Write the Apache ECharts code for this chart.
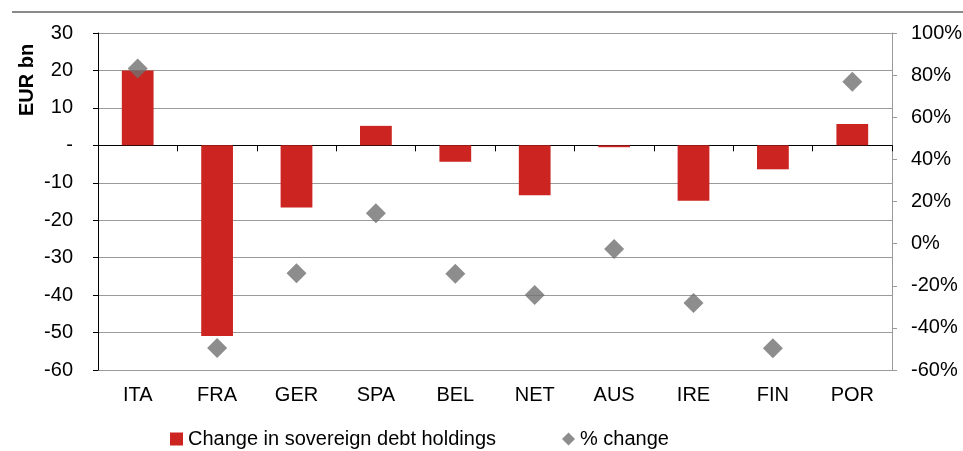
<!DOCTYPE html>
<html>
<head>
<meta charset="utf-8">
<script src="https://cdn.jsdelivr.net/npm/echarts@6/dist/echarts.min.js"></script>
<style>
  html, body { margin: 0; padding: 0; background: #fff; }
  #chart { width: 963px; height: 451px; }
</style>
</head>
<body>
<div id="chart"></div>
<script>
// countries on the x axis
const countries = ['ITA', 'FRA', 'GER', 'SPA', 'BEL', 'NET', 'AUS', 'IRE', 'FIN', 'POR']
// change in holdings, EUR bn (left axis)
const holdingsChange = [20.0, -50.9, -16.6, 5.2, -4.4, -13.3, -0.5, -14.8, -6.4, 5.7]
// % change (right axis)
const pctChange = [83.2, -49.5, -14.1, 14.4, -14.3, -24.4, -2.5, -28.2, -49.7, 76.9]

const FONT = '"Liberation Sans", Arial, sans-serif'

const chart = echarts.init(document.getElementById('chart'))

const option = {
  animation: false,
  textStyle: { fontFamily: FONT },
  graphic: [
    {
      type: 'line',
      shape: { x1: 12, y1: 12, x2: 963, y2: 12 },
      style: { stroke: '#8a8a8a', lineWidth: 2 },
    },
    {
      type: 'text',
      x: 27,
      y: 80,
      rotation: Math.PI / 2,
      style: {
        text: 'EUR bn',
        font: 'bold 20px ' + FONT,
        fill: '#000',
        align: 'center',
        verticalAlign: 'middle',
      },
    },
  ],
  grid: { left: 98, right: 71, top: 33, bottom: 81, containLabel: false, outerBoundsMode: 'none' },
  legend: {
    left: 165,
    top: 424,
    itemGap: 66,
    itemWidth: 13,
    itemHeight: 13,
    textStyle: { fontSize: 20, color: '#000', fontFamily: FONT },
    data: [
      { name: 'Change in sovereign debt holdings', icon: 'rect' },
      { name: '% change', icon: 'diamond' },
    ],
  },
  xAxis: [
    {
      type: 'category',
      data: countries,
      axisLine: { onZero: true, lineStyle: { color: '#000', width: 1 } },
      axisTick: { show: true, length: 6, lineStyle: { color: '#000' } },
      axisLabel: { show: false },
      splitLine: { show: false },
    },
    {
      type: 'category',
      data: countries,
      position: 'bottom',
      axisLine: { show: false },
      axisTick: { show: false },
      axisLabel: { color: '#000', fontSize: 20, margin: 15, fontFamily: FONT },
    },
  ],
  yAxis: [
    {
      type: 'value',
      min: -60,
      max: 30,
      interval: 10,
      axisLine: { show: true, lineStyle: { color: '#000' } },
      axisTick: { show: true, length: 5, lineStyle: { color: '#000' } },
      axisLabel: {
        color: '#000',
        fontSize: 20,
        margin: 25,
        fontFamily: FONT,
        formatter: (v) => (v === 0 ? '-' : String(v)),
      },
      splitLine: { show: true, lineStyle: { color: '#9a9a9a', width: 1 } },
    },
    {
      type: 'value',
      min: -60,
      max: 100,
      interval: 20,
      position: 'right',
      axisLine: { show: true, lineStyle: { color: '#9a9a9a' } },
      axisTick: { show: true, length: 5, lineStyle: { color: '#9a9a9a' } },
      axisLabel: {
        color: '#000',
        fontSize: 20,
        margin: 19,
        fontFamily: FONT,
        formatter: (v) => v + '%',
      },
      splitLine: { show: false },
    },
  ],
  series: [
    {
      name: 'Change in sovereign debt holdings',
      type: 'bar',
      xAxisIndex: 0,
      yAxisIndex: 0,
      barWidth: '40%',
      itemStyle: { color: '#cc2421' },
      data: holdingsChange,
    },
    {
      name: '% change',
      type: 'scatter',
      xAxisIndex: 0,
      yAxisIndex: 1,
      symbol: 'diamond',
      symbolSize: 20,
      itemStyle: { color: '#707070' },
      data: pctChange,
    },
  ],
}

chart.setOption(option)
</script>
</body>
</html>
